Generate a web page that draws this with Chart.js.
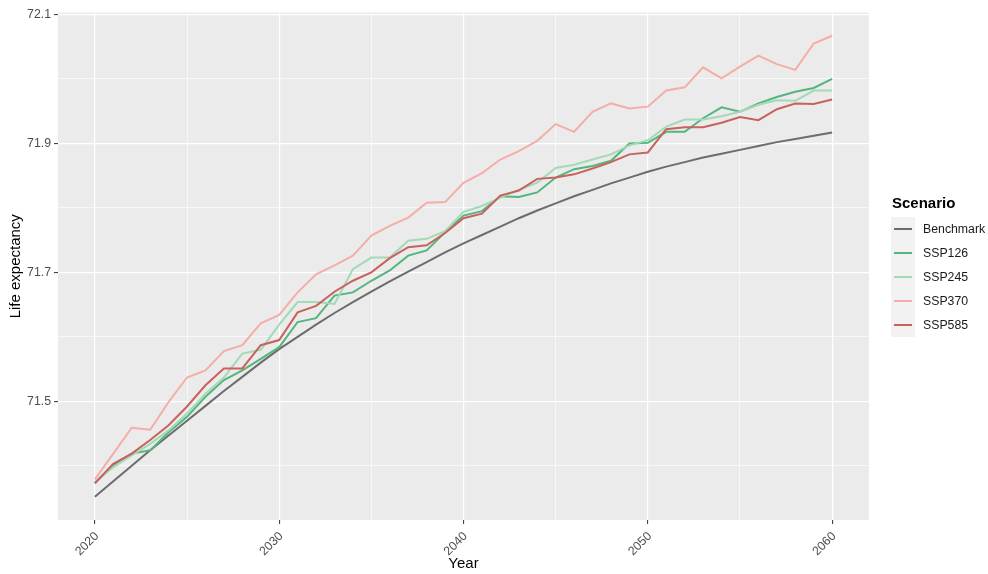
<!DOCTYPE html>
<html>
<head>
<meta charset="utf-8">
<title>Life expectancy by scenario</title>
<script src="https://cdn.jsdelivr.net/npm/chart.js@4/dist/chart.umd.min.js"></script>
<style>
  html, body { margin: 0; padding: 0; background: #ffffff; }
  #wrap { width: 988px; height: 574px; position: relative; }
</style>
</head>
<body>
<div id="wrap"><canvas id="chart" width="988" height="574"></canvas></div>
<script>
// ---- data ----
const years = [2020, 2021, 2022, 2023, 2024, 2025, 2026, 2027, 2028, 2029,
               2030, 2031, 2032, 2033, 2034, 2035, 2036, 2037, 2038, 2039,
               2040, 2041, 2042, 2043, 2044, 2045, 2046, 2047, 2048, 2049,
               2050, 2051, 2052, 2053, 2054, 2055, 2056, 2057, 2058, 2059, 2060];

const benchmark = [71.352, 71.376, 71.400, 71.424, 71.447, 71.470, 71.493, 71.516, 71.538, 71.560,
                   71.581, 71.600, 71.619, 71.637, 71.654, 71.670, 71.686, 71.701, 71.716, 71.731,
                   71.745, 71.758, 71.771, 71.784, 71.796, 71.807, 71.818, 71.828, 71.838, 71.847,
                   71.856, 71.864, 71.871, 71.878, 71.884, 71.890, 71.896, 71.902, 71.907, 71.912, 71.917];

const ssp126 = [71.373, 71.401, 71.419, 71.424, 71.452, 71.476, 71.507, 71.533, 71.548, 71.566,
                71.584, 71.623, 71.629, 71.664, 71.669, 71.687, 71.703, 71.726, 71.734, 71.762,
                71.788, 71.795, 71.818, 71.817, 71.824, 71.847, 71.860, 71.865, 71.873, 71.900,
                71.901, 71.918, 71.918, 71.939, 71.956, 71.949, 71.962, 71.972, 71.980, 71.986, 72.000];

const ssp245 = [71.375, 71.398, 71.416, 71.434, 71.455, 71.481, 71.512, 71.537, 71.574, 71.580,
                71.619, 71.654, 71.654, 71.651, 71.705, 71.723, 71.723, 71.749, 71.752, 71.764,
                71.794, 71.803, 71.816, 71.828, 71.839, 71.862, 71.867, 71.875, 71.883, 71.897,
                71.905, 71.926, 71.937, 71.937, 71.942, 71.949, 71.960, 71.967, 71.966, 71.982, 71.982];

const ssp370 = [71.379, 71.419, 71.459, 71.456, 71.499, 71.537, 71.548, 71.578, 71.587, 71.621,
                71.634, 71.669, 71.697, 71.711, 71.726, 71.757, 71.772, 71.785, 71.808, 71.809,
                71.839, 71.854, 71.875, 71.888, 71.904, 71.930, 71.918, 71.949, 71.962, 71.954,
                71.957, 71.982, 71.987, 72.018, 72.001, 72.019, 72.036, 72.023, 72.014, 72.055, 72.067];

const ssp585 = [71.373, 71.403, 71.419, 71.440, 71.463, 71.492, 71.525, 71.551, 71.551, 71.587,
                71.595, 71.638, 71.648, 71.670, 71.687, 71.700, 71.722, 71.739, 71.742, 71.761,
                71.784, 71.791, 71.819, 71.827, 71.845, 71.847, 71.852, 71.861, 71.871, 71.883,
                71.886, 71.922, 71.925, 71.925, 71.932, 71.941, 71.936, 71.953, 71.962, 71.961, 71.968];

const seriesNames  = ['Benchmark', 'SSP126', 'SSP245', 'SSP370', 'SSP585'];
const seriesValues = [benchmark, ssp126, ssp245, ssp370, ssp585];
const seriesColors = ['#6c6c6c', '#52b67e', '#a2d9b6', '#f4ada7', '#c9615c'];

// axis ticks: every gridline position, with text only on the major ones
const yGrid = [71.4, 71.5, 71.6, 71.7, 71.8, 71.9, 72.0, 72.1];
const yTickLabels = { '71.5': '71.5', '71.7': '71.7', '71.9': '71.9', '72.1': '72.1' };
const xGrid = [2020, 2025, 2030, 2035, 2040, 2045, 2050, 2055, 2060];
const xTickLabels = { '2020': '2020', '2030': '2030', '2040': '2040', '2050': '2050', '2060': '2060' };

const legendTitle = 'Scenario';
const xTitle = 'Year';
const yTitle = 'Life expectancy';

// ---- styling ----
const FONT = '"Liberation Sans", Arial, Helvetica, sans-serif';
const PANEL_BG = '#EBEBEB';
const KEY_BG = '#F2F2F2';

const keyOf = v => (Math.round(v * 10) / 10).toFixed(1);
const isMajorY = v => yTickLabels[keyOf(v)] !== undefined;
const isMajorX = v => xTickLabels[String(Math.round(v))] !== undefined;

const panelBackground = {
  id: 'panelBackground',
  beforeDraw(chart) {
    const { ctx, chartArea: a } = chart;
    ctx.save();
    ctx.fillStyle = PANEL_BG;
    ctx.fillRect(a.left, a.top, a.right - a.left, a.bottom - a.top);
    ctx.restore();
  }
};

const sideLegend = {
  id: 'sideLegend',
  afterDraw(chart) {
    const ctx = chart.ctx;
    const x0 = 891, top = 217, keyW = 24, rowH = 24;
    ctx.save();
    ctx.fillStyle = '#000000';
    ctx.font = 'bold 15px ' + FONT;
    ctx.textBaseline = 'middle';
    ctx.textAlign = 'left';
    ctx.fillText(legendTitle, x0 + 1, 204);

    ctx.fillStyle = KEY_BG;
    ctx.fillRect(x0, top, keyW, rowH * seriesNames.length);

    ctx.font = '12.3px ' + FONT;
    seriesNames.forEach((name, i) => {
      const cy = top + rowH * i + rowH / 2;
      ctx.strokeStyle = seriesColors[i];
      ctx.lineWidth = 2;
      ctx.beginPath();
      ctx.moveTo(x0 + 3, cy);
      ctx.lineTo(x0 + keyW - 3, cy);
      ctx.stroke();
      ctx.fillStyle = '#1a1a1a';
      ctx.fillText(name, 923, cy + 0.5);
    });
    ctx.restore();
  }
};

const datasets = seriesNames.map((name, i) => ({
  label: name,
  data: years.map((yr, j) => ({ x: yr, y: seriesValues[i][j] })),
  borderColor: seriesColors[i],
  backgroundColor: seriesColors[i],
  borderWidth: 2,
  pointRadius: 0,
  pointHoverRadius: 0,
  tension: 0,
  fill: false,
  order: seriesNames.length - i   // later scenarios drawn on top
}));

new Chart(document.getElementById('chart'), {
  type: 'line',
  data: { datasets },
  plugins: [panelBackground, sideLegend],
  options: {
    responsive: false,
    animation: false,
    devicePixelRatio: 1,
    layout: { padding: { left: 0, right: 119, top: 12.5, bottom: 0 } },
    plugins: {
      legend: { display: false },
      tooltip: { enabled: false },
      title: { display: false }
    },
    scales: {
      x: {
        type: 'linear',
        min: 2018,
        max: 2062,
        afterBuildTicks(scale) { scale.ticks = xGrid.map(v => ({ value: v })); },
        afterFit(scale) { scale.height = 54; },
        border: { display: false },
        grid: {
          color: '#FFFFFF',
          lineWidth: ctx => (ctx.tick && isMajorX(ctx.tick.value)) ? 1.2 : 0.6,
          drawTicks: true,
          tickLength: 4,
          tickWidth: 1,
          tickColor: ctx => (ctx.tick && isMajorX(ctx.tick.value)) ? '#333333' : 'rgba(0,0,0,0)'
        },
        ticks: {
          autoSkip: false,
          minRotation: 45,
          maxRotation: 45,
          padding: 5,
          labelOffset: 2,
          color: '#4D4D4D',
          font: { family: FONT, size: 12.3 },
          callback: v => xTickLabels[String(Math.round(v))] || ''
        },
        title: {
          display: true,
          text: xTitle,
          color: '#000000',
          font: { family: FONT, size: 15 },
          padding: { top: 0, bottom: 1 }
        }
      },
      y: {
        type: 'linear',
        min: 71.316,
        max: 72.103,
        afterBuildTicks(scale) { scale.ticks = yGrid.map(v => ({ value: v })); },
        afterFit(scale) { scale.width = 58; },
        border: { display: false },
        grid: {
          color: '#FFFFFF',
          lineWidth: ctx => (ctx.tick && isMajorY(ctx.tick.value)) ? 1.2 : 0.6,
          drawTicks: true,
          tickLength: 4,
          tickWidth: 1,
          tickColor: ctx => (ctx.tick && isMajorY(ctx.tick.value)) ? '#333333' : 'rgba(0,0,0,0)'
        },
        ticks: {
          padding: 3,
          color: '#4D4D4D',
          font: { family: FONT, size: 12.3 },
          callback: v => yTickLabels[keyOf(v)] || ''
        },
        title: {
          display: true,
          text: yTitle,
          color: '#000000',
          font: { family: FONT, size: 15 },
          padding: { top: 7, bottom: 0 }
        }
      }
    }
  }
});
</script>
</body>
</html>
